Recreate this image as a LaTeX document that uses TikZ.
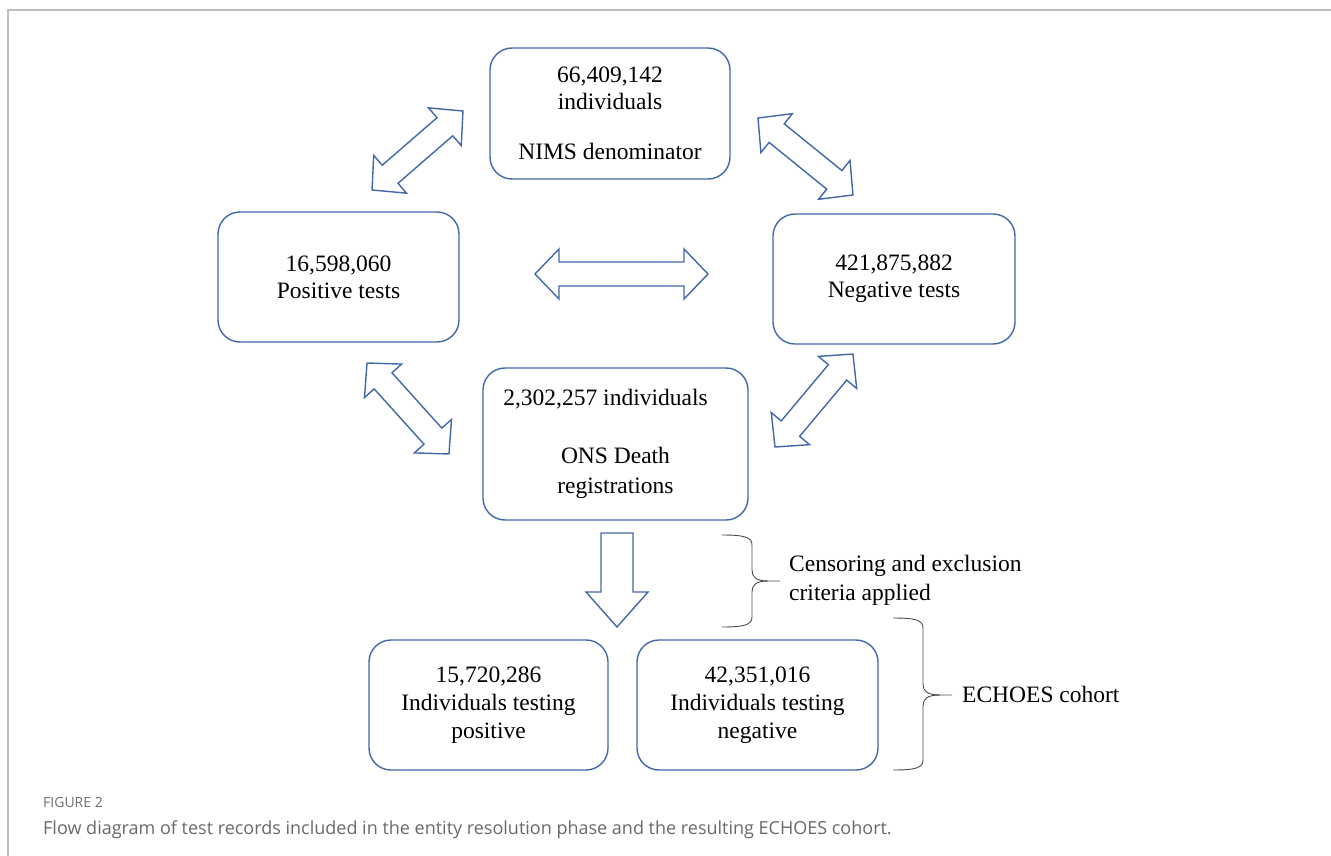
\documentclass[tikz,border=0pt]{standalone}
\usepackage{fontspec}
\setmainfont{Liberation Serif}
\newfontfamily\capfont{Open Sans}
\usetikzlibrary{calc}
\definecolor{boxblue}{RGB}{66,104,170}
\definecolor{framegray}{RGB}{190,190,190}
\definecolor{capgray}{RGB}{105,105,105}
\definecolor{figgray}{RGB}{110,110,110}
\newcommand\dblarrow[2]{%
  \draw[blockarrow] let \p1=(#1), \p2=(#2),
    \n1={atan2(\y2-\y1,\x2-\x1)}, \n2={veclen(\x2-\x1,\y2-\y1)}, \n3={\n2-24pt} in
    {[shift={(\x1,\y1)}, rotate=\n1]
     (0pt,0pt) -- (24pt,25pt) -- (24pt,12pt) -- (\n3,12pt) -- (\n3,25pt)
     -- (\n2,0pt) -- (\n3,-25pt) -- (\n3,-12pt) -- (24pt,-12pt) -- (24pt,-25pt) -- cycle};}
\begin{document}
\begin{tikzpicture}[x=1pt,y=-1pt,
  box/.style={draw=boxblue, line width=1.4pt, rounded corners=22pt, align=center,
    inner sep=0pt, font=\fontsize{23.5}{27}\selectfont},
  blockarrow/.style={draw=boxblue, line width=1.4pt, fill=white, line join=miter},
  bracepath/.style={draw=black!70, line width=0.9pt},
  lbl/.style={font=\fontsize{23.5}{29}\selectfont, align=left, inner sep=0pt}]
\useasboundingbox (0,0) rectangle (1331,856);
\draw[framegray, line width=2pt] (8,856) -- (8,10) -- (1331,10);

\node[box, minimum width=240pt, minimum height=131pt] (nims) at (610,113.5)
  {66,409,142\\individuals\\[23pt]NIMS denominator};
\node[box, minimum width=241pt, minimum height=130pt] (pos) at (338.5,277)
  {16,598,060\\Positive tests};
\node[box, minimum width=242pt, minimum height=130pt] (neg) at (894,279)
  {421,875,882\\Negative tests};
\node[box, minimum width=265pt, minimum height=152pt, font=\fontsize{23.5}{30}\selectfont] (ons) at (615.5,444)
  {2,302,257 individuals\hspace*{20pt}\\[28pt]ONS Death\\registrations};
\node[box, minimum width=239pt, minimum height=130pt, font=\fontsize{23.5}{28}\selectfont] (ipos) at (488.5,705)
  {15,720,286\\Individuals testing\\positive};
\node[box, minimum width=241pt, minimum height=130pt, font=\fontsize{23.5}{28}\selectfont] (ineg) at (757.5,705)
  {42,351,016\\Individuals testing\\negative};

\coordinate (h1) at (535,274); \coordinate (h2) at (708,274);
\coordinate (a1) at (372,190); \coordinate (a2) at (463,111);
\coordinate (b1) at (758,118); \coordinate (b2) at (853,195);
\coordinate (c1) at (367,363); \coordinate (c2) at (449,454);
\coordinate (d1) at (775,447); \coordinate (d2) at (853,354);
\dblarrow{h1}{h2}
\dblarrow{a1}{a2}
\dblarrow{b1}{b2}
\dblarrow{c1}{c2}
\dblarrow{d1}{d2}

\coordinate (dtop) at (617,533);
\draw[blockarrow] ($(dtop)+(-16,0)$) -- ($(dtop)+(16,0)$) -- ($(dtop)+(16,59)$) -- ($(dtop)+(31,59)$)
  -- ($(dtop)+(0,94)$) -- ($(dtop)+(-31,59)$) -- ($(dtop)+(-16,59)$) -- cycle;

\draw[bracepath] (722,535) .. controls (744,535) and (752,537) .. (752,545) -- (752,570)
  .. controls (752,577) and (756,581) .. (768,581) -- (780,581);
\draw[bracepath] (722,627) .. controls (744,627) and (752,625) .. (752,617) -- (752,592)
  .. controls (752,585) and (756,581) .. (768,581);
\node[lbl, anchor=north west] (cens) at (789,555) {Censoring and exclusion\\criteria applied};

\draw[bracepath] (893,618) .. controls (915,618) and (923,620) .. (923,628) -- (923,684)
  .. controls (923,691) and (927,695) .. (940,695) -- (952,695);
\draw[bracepath] (893,770) .. controls (915,770) and (923,768) .. (923,760) -- (923,706)
  .. controls (923,699) and (927,695) .. (940,695);
\node[lbl, anchor=base west] (echo) at (962,702) {ECHOES cohort};

\node[anchor=base west, inner sep=0pt, text=figgray, font=\capfont\fontsize{14}{16}\selectfont] (fig) at (43,807) {FIGURE 2};
\node[anchor=base west, inner sep=0pt, text=capgray, font=\capfont\fontsize{18}{21}\selectfont] (cap) at (43,834)
  {Flow diagram of test records included in the entity resolution phase and the resulting ECHOES cohort.};
\end{tikzpicture}
\end{document}
